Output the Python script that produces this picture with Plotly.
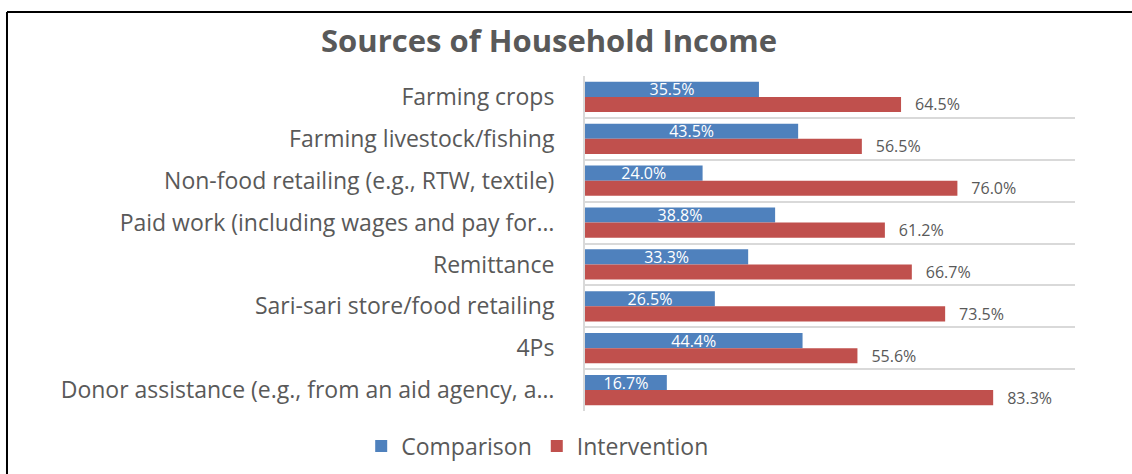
import plotly.graph_objects as go

# Income sources (category order top to bottom) and shares per group
categories = [
    "Farming crops",
    "Farming livestock/fishing",
    "Non-food retailing (e.g., RTW, textile)",
    "Paid work (including wages and pay for…",
    "Remittance",
    "Sari-sari store/food retailing",
    "4Ps",
    "Donor assistance (e.g., from an aid agency, a…",
]
comparison = [0.355, 0.435, 0.240, 0.388, 0.333, 0.265, 0.444, 0.167]
intervention = [0.645, 0.565, 0.760, 0.612, 0.667, 0.735, 0.556, 0.833]

BLUE = "#4F81BD"
RED = "#C0504D"
GREY_TEXT = "#595959"
GRID = "#D9D9D9"
FONT = "'Open Sans', 'Noto Sans', sans-serif"

fig = go.Figure()
fig.add_trace(go.Bar(
    name="Comparison",
    y=categories,
    x=comparison,
    orientation="h",
    marker=dict(color=BLUE, line=dict(width=0)),
    text=[f"{v * 100:.1f}%" for v in comparison],
    textposition="inside",
    insidetextanchor="middle",
    constraintext="none",
    insidetextfont=dict(color="white", size=16, family=FONT),
    cliponaxis=False,
))
fig.add_trace(go.Bar(
    name="Intervention",
    y=categories,
    x=intervention,
    orientation="h",
    marker=dict(color=RED, line=dict(width=0)),
    text=["\u00a0\u00a0\u2009" + f"{v * 100:.1f}%" for v in intervention],
    textposition="outside",
    constraintext="none",
    outsidetextfont=dict(color=GREY_TEXT, size=16, family=FONT),
    cliponaxis=False,
))

# Chart frame: top and left edges
frame = dict(color="black", width=2)
fig.add_shape(type="line", xref="paper", yref="paper",
              x0=-1.1796, x1=1.12, y0=1.191, y1=1.191, line=frame)
fig.add_shape(type="line", xref="paper", yref="paper",
              x0=-1.1796, x1=-1.1796, y0=1.191, y1=-0.2, line=frame)

fig.update_layout(
    width=1132,
    height=474,
    margin=dict(l=585, r=57, t=76, b=63),
    paper_bgcolor="white",
    plot_bgcolor="white",
    barmode="group",
    bargap=0.28,
    bargroupgap=0,
    font=dict(family=FONT, color=GREY_TEXT),
    title=dict(
        text="<b>Sources of Household Income</b>",
        font=dict(size=31, color=GREY_TEXT, family=FONT),
        xref="container", x=0.485, xanchor="center",
        yref="container", y=0.9135, yanchor="middle",
    ),
    legend=dict(
        orientation="h",
        xref="container", x=0.475, xanchor="center",
        yref="container", y=0.059, yanchor="middle",
        font=dict(size=23, color=GREY_TEXT, family=FONT),
        traceorder="normal",
        itemsizing="constant",
    ),
    xaxis=dict(
        range=[0, 1],
        showgrid=False,
        showticklabels=False,
        zeroline=False,
        showline=False,
        fixedrange=True,
    ),
    yaxis=dict(
        type="category",
        autorange="reversed",
        tickson="boundaries",
        showgrid=True,
        gridcolor=GRID,
        gridwidth=2,
        showline=True,
        linecolor=GRID,
        linewidth=2,
        ticks="",
        ticklabelstandoff=24,
        tickfont=dict(size=23, color=GREY_TEXT, family=FONT),
    ),
)

fig.write_html("out.html")
